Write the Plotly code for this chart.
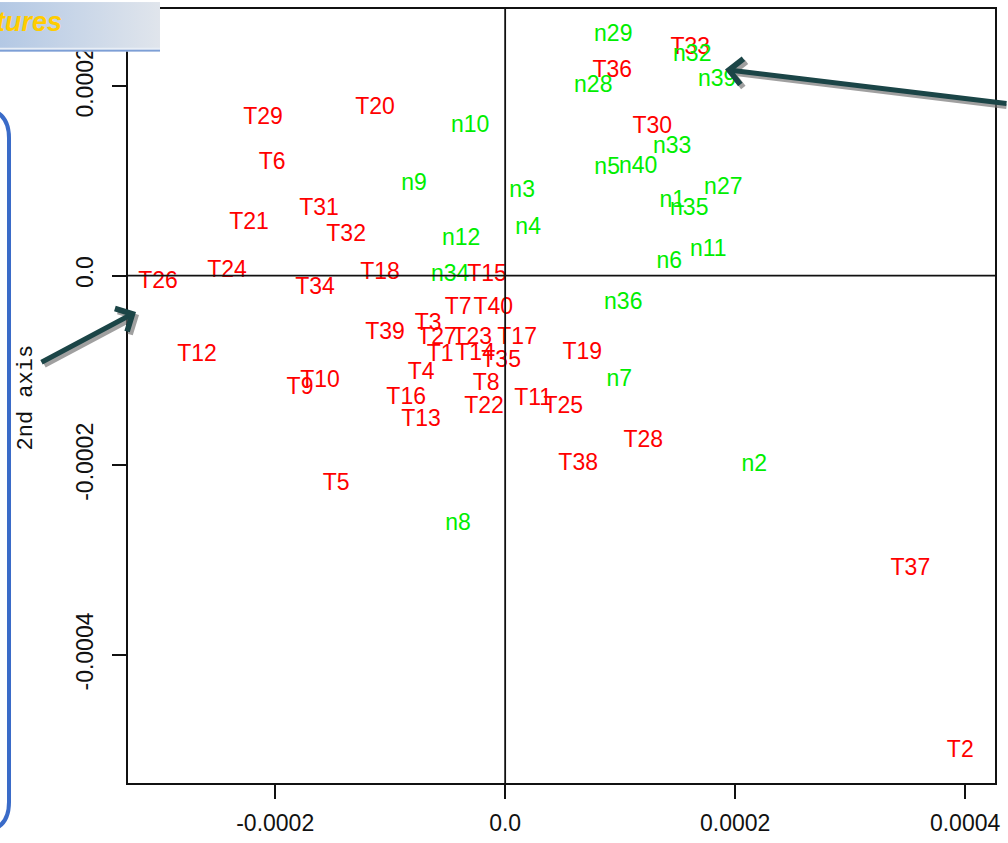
import base64
import plotly.graph_objects as go

# ---------------- data ----------------
t_labels = ["T1", "T2", "T3", "T4", "T5", "T6", "T7", "T8", "T9", "T10",
            "T11", "T12", "T13", "T14", "T15", "T16", "T17", "T18", "T19", "T20",
            "T21", "T22", "T23", "T24", "T25", "T26", "T27", "T28", "T29", "T30",
            "T31", "T32", "T33", "T34", "T35", "T36", "T37", "T38", "T39", "T40"]
t_x = [-0.565e-4, 3.958e-4, -0.670e-4, -0.731e-4, -1.470e-4, -2.027e-4, -0.409e-4, -0.165e-4, -1.784e-4, -1.610e-4,
       0.244e-4, -2.680e-4, -0.731e-4, -0.261e-4, -0.157e-4, -0.861e-4, 0.104e-4, -1.088e-4, 0.670e-4, -1.131e-4,
       -2.227e-4, -0.183e-4, -0.287e-4, -2.419e-4, 0.505e-4, -3.019e-4, -0.592e-4, 1.201e-4, -2.105e-4, 1.279e-4,
       -1.618e-4, -1.383e-4, 1.610e-4, -1.653e-4, -0.035e-4, 0.931e-4, 3.524e-4, 0.635e-4, -1.044e-4, -0.104e-4]
t_y = [-0.837e-4, -5.020e-4, -0.513e-4, -1.025e-4, -2.197e-4, 1.182e-4, -0.345e-4, -1.151e-4, -1.192e-4, -1.119e-4,
       -1.308e-4, -0.837e-4, -1.527e-4, -0.826e-4, 0.005e-4, -1.297e-4, -0.659e-4, 0.021e-4, -0.816e-4, 1.768e-4,
       0.554e-4, -1.391e-4, -0.659e-4, 0.042e-4, -1.391e-4, -0.073e-4, -0.659e-4, -1.747e-4, 1.663e-4, 1.559e-4,
       0.701e-4, 0.429e-4, 2.395e-4, -0.136e-4, -0.900e-4, 2.155e-4, -3.096e-4, -1.987e-4, -0.607e-4, -0.345e-4]

n_labels = ["n1", "n2", "n3", "n4", "n5", "n6", "n7", "n8", "n9", "n10", "n11", "n12",
            "n27", "n28", "n29", "n32", "n33", "n34", "n35", "n36", "n39", "n40"]
n_x = [1.453e-4, 2.166e-4, 0.148e-4, 0.200e-4, 0.887e-4, 1.427e-4, 0.992e-4, -0.409e-4, -0.792e-4, -0.305e-4, 1.766e-4, -0.383e-4,
       1.897e-4, 0.766e-4, 0.940e-4, 1.627e-4, 1.453e-4, -0.479e-4, 1.601e-4, 1.027e-4, 1.844e-4, 1.157e-4]
n_y = [0.785e-4, -1.998e-4, 0.889e-4, 0.502e-4, 1.130e-4, 0.136e-4, -1.109e-4, -2.625e-4, 0.962e-4, 1.569e-4, 0.262e-4, 0.387e-4,
       0.920e-4, 1.998e-4, 2.531e-4, 2.322e-4, 1.349e-4, 0.005e-4, 0.701e-4, -0.293e-4, 2.061e-4, 1.140e-4]

x_ticks = [-0.0002, 0.0, 0.0002, 0.0004]
x_tick_text = ["-0.0002", "0.0", "0.0002", "0.0004"]
y_ticks = [-0.0004, -0.0002, 0.0, 0.0002]
y_tick_text = ["-0.0004", "-0.0002", "0.0", "0.0002"]
x_range = [-0.000328, 0.000426]
y_range = [-0.000535, 0.000281]

y_title = "2nd axis"
banner_text = "tures"

# ---------------- layout geometry ----------------
W, H = 1008, 843
ML, MR, MT, MB = 128, 13, 7, 57
PW, PH = W - ML - MR, H - MT - MB


def px(p):
    return (p - ML) / PW


def py(p):
    return (H - MB - p) / PH


LABEL_FONT = "Liberation Sans, Arial, sans-serif"

fig = go.Figure()
fig.add_trace(go.Scatter(x=t_x, y=t_y, text=t_labels, mode="text",
                         textposition="middle center", hoverinfo="skip",
                         textfont=dict(family=LABEL_FONT, size=23, color="#ff0000")))
fig.add_trace(go.Scatter(x=n_x, y=n_y, text=n_labels, mode="text",
                         textposition="middle center", hoverinfo="skip",
                         textfont=dict(family=LABEL_FONT, size=23, color="#00ee00")))

axis_common = dict(showgrid=False, zeroline=False, showline=True, mirror=True,
                   linecolor="#111111", linewidth=2, ticks="outside", ticklen=14,
                   tickwidth=1.5, tickcolor="#111111",
                   tickfont=dict(family=LABEL_FONT, size=23, color="#111111"))
fig.update_xaxes(range=x_range, tickvals=x_ticks, ticktext=x_tick_text,
                 ticklabelstandoff=4, **axis_common)
fig.update_yaxes(range=y_range, tickvals=y_ticks, ticktext=y_tick_text, tickangle=-90,
                 ticklabelstandoff=10, **axis_common)

# zero reference lines drawn over the labels
fig.add_shape(type="line", xref="x", yref="paper", x0=0, x1=0, y0=0, y1=1,
              line=dict(color="#111111", width=1.8), layer="above")
fig.add_shape(type="line", xref="paper", yref="y", x0=0, x1=1, y0=0, y1=0,
              line=dict(color="#111111", width=1.8), layer="above")

# rounded blue bracket on the left
pts = [("M", -40, 107), ("L", -21, 107), ("Q", 9, 107, 9, 137), ("L", 9, 805),
       ("Q", 9, 835, -21, 835), ("L", -40, 835)]
path = ""
for seg in pts:
    s = seg[0]
    coords = seg[1:]
    for i in range(0, len(coords), 2):
        s += " %.5f,%.5f" % (px(coords[i]), py(coords[i + 1]))
    path += s + " "
fig.add_shape(type="path", xref="paper", yref="paper", path=path.strip(),
              line=dict(color="#3a6bc8", width=4), layer="above")

# banner box at top-left
svg = ('<svg xmlns="http://www.w3.org/2000/svg" width="160" height="50">'
       '<defs><linearGradient id="g" x1="0" x2="1" y1="0" y2="0">'
       '<stop offset="0" stop-color="#b3c8e4"/><stop offset="1" stop-color="#e0e5ec"/>'
       '</linearGradient></defs>'
       '<rect width="160" height="50" fill="url(#g)"/>'
       '<rect y="46" width="160" height="2" fill="#e8eef6"/>'
       '<rect y="48" width="160" height="2" fill="#7d9fd6"/></svg>')
src = "data:image/svg+xml;base64," + base64.b64encode(svg.encode()).decode()
fig.add_layout_image(dict(source=src, xref="paper", yref="paper", x=px(0), y=py(0),
                          sizex=160 / PW, sizey=50 / PH, xanchor="left", yanchor="top",
                          sizing="stretch", layer="above"))

annotations = []
annotations.append(dict(text="<b><i>" + banner_text + "</i></b>", xref="paper", yref="paper",
                        x=px(64), y=py(20), xanchor="right", yanchor="middle", showarrow=False,
                        font=dict(family="Liberation Sans, Arial, sans-serif", size=27, color="#ffcc00")))
annotations.append(dict(text=y_title, xref="paper", yref="paper", x=px(26), y=py(398),
                        xanchor="center", yanchor="middle", textangle=-90, showarrow=False,
                        font=dict(family="Liberation Mono, DejaVu Sans Mono, monospace", size=22,
                                  color="#111111")))

arrows = [((725, 68), (1015, 102)), ((136, 312), (40, 363))]
for (hx, hy), (tx, ty) in arrows:
    # shadow
    annotations.append(dict(text="", xref="paper", yref="paper", x=px(hx + 3), y=py(hy + 3),
                            ax=tx - hx, ay=ty - hy, showarrow=True, arrowhead=4, arrowsize=1.0,
                            arrowwidth=5, arrowcolor="rgba(110,110,110,0.65)"))
    annotations.append(dict(text="", xref="paper", yref="paper", x=px(hx), y=py(hy),
                            ax=tx - hx, ay=ty - hy, showarrow=True, arrowhead=4, arrowsize=1.0,
                            arrowwidth=5, arrowcolor="#1b4547"))

fig.update_layout(width=W, height=H, margin=dict(l=ML, r=MR, t=MT, b=MB),
                  paper_bgcolor="white", plot_bgcolor="white", showlegend=False,
                  hovermode=False, annotations=annotations)

fig.write_html("out.html", config={"displayModeBar": False},
               post_script="document.body.style.margin='0';")
